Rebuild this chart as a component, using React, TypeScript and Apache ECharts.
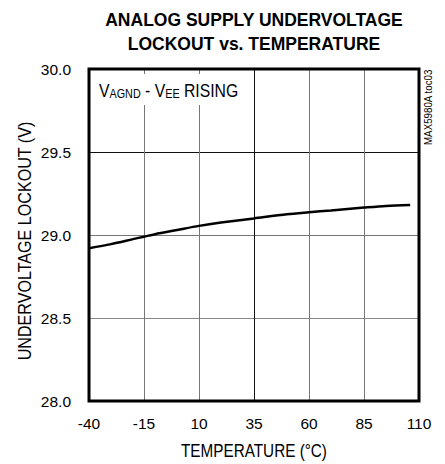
import React, { useEffect, useRef } from "react";
import * as echarts from "echarts";

const temperatures = [-40, -30, -20, -15, -10, 0, 10, 20, 35, 50, 60, 70, 85, 95, 106];
const lockoutVolts = [28.92, 28.945, 28.975, 28.99, 29.005, 29.03, 29.055, 29.075, 29.1, 29.125, 29.137, 29.148, 29.165, 29.175, 29.18];
const X_OFFSET = 40; // axis runs 0..150 internally so min is a multiple of 25
const xAxisTitle = "TEMPERATURE (°C)";
const yAxisTitle = "UNDERVOLTAGE LOCKOUT (V)";

const SANS = "'Liberation Sans', Arial, sans-serif";

export default function App() {
  const ref = useRef<HTMLDivElement>(null);
  useEffect(() => {
    if (!ref.current) return;
    const chart = echarts.init(ref.current, null, { renderer: "svg" });
    const data = temperatures.map((t, i) => [t + X_OFFSET, lockoutVolts[i]]);
    chart.setOption({
      animation: false,
      backgroundColor: "#fff",
      grid: { left: 89, right: 26, top: 69, bottom: 63, show: true, borderColor: "#000", borderWidth: 3, z: 5 },
      xAxis: {
        type: "value",
        min: 0,
        max: 150,
        interval: 25,
        axisLine: { show: false },
        axisTick: { show: false },
        axisLabel: {
          color: "#000",
          fontFamily: SANS,
          fontSize: 15.5,
          margin: 14,
          formatter: (v: number) => String(v - X_OFFSET),
        },
        splitLine: { show: true, lineStyle: { color: ["#777", "#777", "#777", "#111", "#777", "#777", "#777"], width: 1 } },
      },
      yAxis: {
        type: "value",
        min: 28,
        max: 30,
        interval: 0.5,
        axisLine: { show: false },
        axisTick: { show: false },
        axisLabel: {
          color: "#000",
          fontFamily: SANS,
          fontSize: 15.5,
          margin: 18,
          formatter: (v: number) => v.toFixed(1),
        },
        splitLine: { show: true, lineStyle: { color: ["#777", "#888", "#777", "#111", "#777"], width: 1 } },
      },
      series: [
        {
          type: "line",
          data,
          showSymbol: false,
          smooth: 0.3,
          lineStyle: { color: "#000", width: 2.5 },
          z: 4,
        },
      ],
      graphic: [
        {
          type: "text",
          x: 254,
          y: 8,
          style: {
            text: "ANALOG SUPPLY UNDERVOLTAGE\nLOCKOUT vs. TEMPERATURE",
            fill: "#000",
            font: `bold 17.5px ${SANS}`,
            align: "center",
            lineHeight: 24,
          },
        },
        {
          type: "text",
          x: 254,
          y: 451,
          scaleX: 0.85,
          style: {
            text: xAxisTitle,
            fill: "#000",
            font: `18px ${SANS}`,
            align: "center",
            verticalAlign: "middle",
          },
        },
        {
          type: "text",
          x: 25,
          y: 241,
          rotation: Math.PI / 2,
          scaleX: 0.895,
          style: {
            text: yAxisTitle,
            fill: "#000",
            font: `18px ${SANS}`,
            align: "center",
            verticalAlign: "middle",
          },
        },
        {
          type: "rect",
          shape: { x: 93, y: 74, width: 147, height: 31 },
          style: { fill: "#fff" },
          z: 3,
        },
        {
          type: "text",
          x: 99,
          y: 81,
          z: 4,
          scaleX: 0.83,
          style: {
            text: "{b|V}{s|AGND}{b| - V}{s|EE}{b| RISING}",
            fill: "#000",
            rich: {
              b: { fontFamily: SANS, fontSize: 19, fill: "#000", verticalAlign: "bottom" },
              s: { fontFamily: SANS, fontSize: 13, fill: "#000", verticalAlign: "bottom" },
            },
          },
        },
        {
          type: "text",
          x: 423,
          y: 145,
          rotation: Math.PI / 2,
          scaleX: 0.93,
          style: {
            text: "MAX5980A toc03",
            fill: "#000",
            font: `10.5px ${SANS}`,
            align: "left",
            verticalAlign: "top",
          },
        },
      ],
    });
    return () => chart.dispose();
  }, []);
  return <div ref={ref} style={{ width: 445, height: 464, position: "absolute", left: 0, top: 0 }} />;
}
